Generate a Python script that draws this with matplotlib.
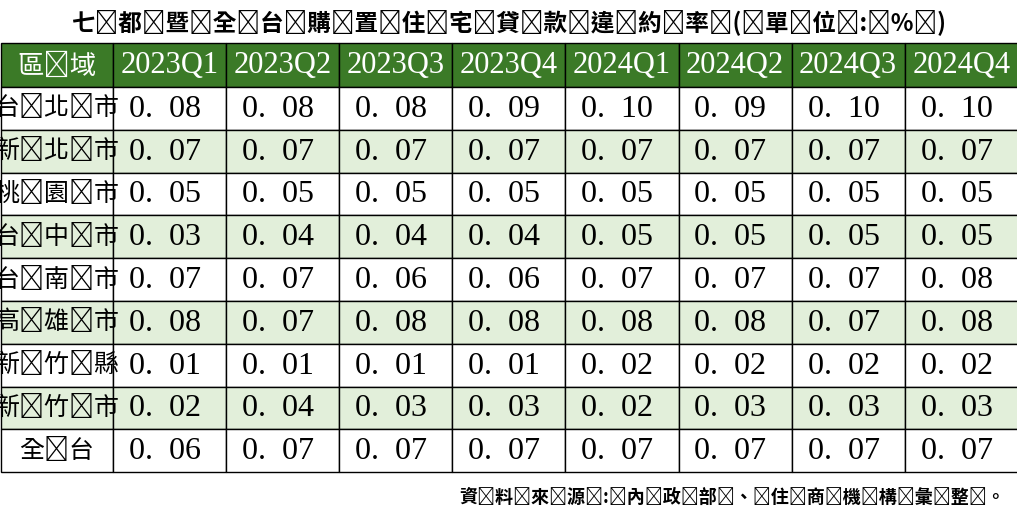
import matplotlib
matplotlib.use("Agg")
import matplotlib.pyplot as plt
from matplotlib.patches import Rectangle

title = "七都暨全台購置住宅貸款違約率(單位:%)"
source = "資料來源:內政部、住商機構彙整。"
header_first = "區域"
quarters = ["2023Q1", "2023Q2", "2023Q3", "2023Q4", "2024Q1", "2024Q2", "2024Q3", "2024Q4"]
regions = ["台北市", "新北市", "桃園市", "台中市", "台南市", "高雄市", "新竹縣", "新竹市", "全台"]
values = [
    [0.08, 0.08, 0.08, 0.09, 0.10, 0.09, 0.10, 0.10],
    [0.07, 0.07, 0.07, 0.07, 0.07, 0.07, 0.07, 0.07],
    [0.05, 0.05, 0.05, 0.05, 0.05, 0.05, 0.05, 0.05],
    [0.03, 0.04, 0.04, 0.04, 0.05, 0.05, 0.05, 0.05],
    [0.07, 0.07, 0.06, 0.06, 0.07, 0.07, 0.07, 0.08],
    [0.08, 0.07, 0.08, 0.08, 0.08, 0.08, 0.07, 0.08],
    [0.01, 0.01, 0.01, 0.01, 0.02, 0.02, 0.02, 0.02],
    [0.02, 0.04, 0.03, 0.03, 0.02, 0.03, 0.03, 0.03],
    [0.06, 0.07, 0.07, 0.07, 0.07, 0.07, 0.07, 0.07],
]

FONT = "Noto Sans CJK TC"
SERIF = "Liberation Serif"
W, H = 1017, 517
fig = plt.figure(figsize=(W / 100, H / 100), dpi=100)
ax = fig.add_axes([0, 0, 1, 1])
ax.set_xlim(0, W)
ax.set_ylim(H, 0)
ax.axis("off")

col_w = [112] + [113.1] * 8
xs = [1]
for w in col_w:
    xs.append(xs[-1] + w)
top, head_h, row_h = 43, 44, 42.8
GREEN = "#3B7A27"
LIGHT = "#E2EFDA"

def spaced(s):
    return "\u2009".join(s)

ax.text(W / 2, 22, spaced(title), ha="center", va="center", fontsize=17, fontweight="bold", family=FONT)

for j, lab in enumerate([header_first] + quarters):
    ax.add_patch(Rectangle((xs[j], top), col_w[j], head_h, facecolor=GREEN, edgecolor="black", lw=1))
    ax.text((xs[j] + xs[j + 1]) / 2, top + head_h / 2 + 1, spaced(lab) if j == 0 else lab,
            ha="center", va="center", color="white", fontsize=19 if j == 0 else 22,
            family=SERIF if j else FONT)

for i, r in enumerate(regions):
    y0 = top + head_h + i * row_h
    fc = LIGHT if i % 2 == 1 else "white"
    for j in range(9):
        ax.add_patch(Rectangle((xs[j], y0), col_w[j], row_h, facecolor=fc, edgecolor="black", lw=1))
    ax.text((xs[0] + xs[1]) / 2, y0 + row_h / 2, spaced(r), ha="center", va="center", fontsize=18, family=FONT)
    for j, v in enumerate(values[i]):
        ax.text(xs[j + 1] + 16, y0 + row_h / 2 + 1, "0.  " + f"{v:.2f}"[2:], ha="left", va="center",
                fontsize=23, family=SERIF)

ax.text(1005, 497, spaced(source), ha="right", va="center", fontsize=13, fontweight="bold", family=FONT)
fig.savefig("out.png", dpi=100, facecolor="white")
